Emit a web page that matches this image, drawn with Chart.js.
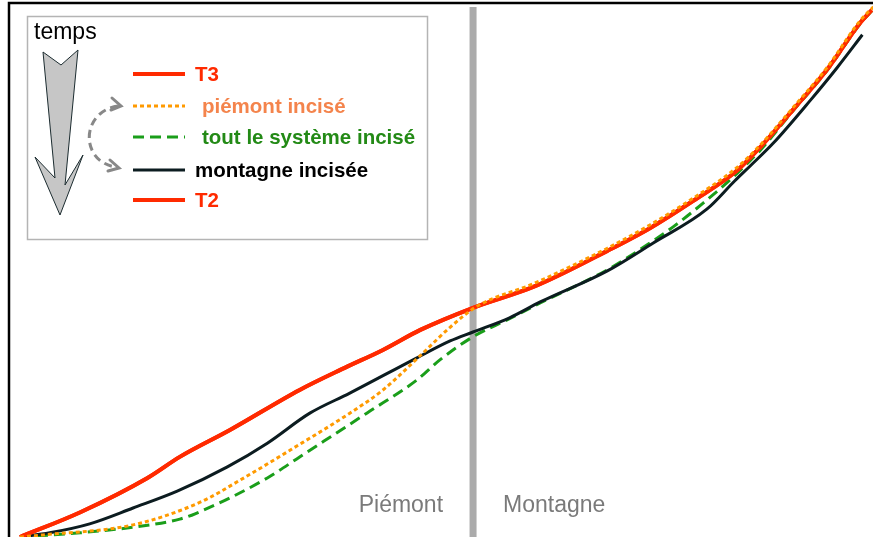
<!DOCTYPE html>
<html>
<head>
<meta charset="utf-8">
<script src="https://cdn.jsdelivr.net/npm/chart.js@4/dist/chart.umd.min.js"></script>
<style>
  html, body { margin: 0; padding: 0; background: #fff; }
  canvas { display: block; }
</style>
</head>
<body>
<canvas id="profil" width="873" height="537"></canvas>
<script>
// distance along the profile (0 = downstream end) and altitude, arbitrary units
let t2X = [0, 7.1, 15, 18.8, 24.7, 32.9, 38.2, 42.7, 47.1, 53.3, 60.6, 69.1, 74.1, 79.2, 84.4, 87.1, 90.9, 94.9, 98.8, 100.2];
let t2Y = [0, 4.7, 11.2, 15.2, 20.3, 27.9, 32.1, 35.5, 39.3, 43.5, 47.6, 54.3, 58.6, 63.8, 69.6, 74.0, 81.0, 88.6, 97.5, 100];
let t3X = [0, 7.1, 15, 18.8, 24.7, 32.9, 38.2, 42.7, 47.1, 53.3, 60.6, 69.1, 74.1, 79.2, 84.4, 87.1, 90.9, 94.9, 98.8, 100.2];
let t3Y = [0, 4.7, 11.2, 15.2, 20.3, 27.9, 32.1, 35.5, 39.3, 43.5, 47.6, 54.3, 58.6, 63.8, 69.6, 74.0, 81.0, 88.6, 97.5, 100];
let piemontX = [0, 2.7, 13.3, 21.2, 25.9, 31.8, 38.8, 42.7, 47.4, 50.6, 53.8, 60.6, 69.1, 74.1, 79.2, 84.4, 87.1, 90.9, 94.9, 98.8, 100.4];
let piemontY = [0, 0.4, 2.3, 6.6, 10.8, 16.5, 23.5, 27.9, 34.9, 39.8, 43.8, 48.2, 54.8, 59.2, 64.3, 70.2, 74.4, 81.4, 89.0, 97.9, 100.6];
let toutX = [0, 7.1, 15.3, 18.8, 20.6, 29.1, 32.9, 40.8, 46.7, 49.4, 53.3, 57.3, 61.2, 69.1, 72.9, 76.8, 80.4, 83.5, 85.5, 87.1, 90.9, 94.9, 98.8, 100.2];
let toutY = [0, 0.8, 2.3, 3.4, 4.4, 11.2, 15.2, 23.5, 29.8, 33.6, 38.0, 41.2, 44.4, 50.7, 54.5, 58.8, 63.4, 67.7, 70.8, 73.4, 80.8, 88.4, 97.3, 99.8];
let montagneX = [0, 3.5, 8.2, 13.3, 18.5, 24.4, 29.1, 34.1, 38.8, 46.7, 50.6, 53.3, 57.6, 61.2, 69.1, 74.5, 80.8, 84.1, 85.9, 88.6, 93.0, 96.1, 99.1];
let montagneY = [0, 0.8, 2.5, 5.5, 8.7, 13.3, 17.8, 23.5, 27.3, 34.0, 37.2, 38.9, 41.6, 44.6, 50.5, 55.8, 62.2, 67.6, 70.4, 74.7, 82.9, 89.0, 95.3];

let boundaryX = 53.3;
let zoneLabels = [`Piémont`, `Montagne`];
let legendLabels = [`T3`, `piémont incisé`, `tout le système incisé`, `montagne incisée`, `T2`];

let pts = (xs, ys) => xs.map((x, i) => ({x: x, y: ys[i]}));

let RED = `#ff2a00`;
let ORANGE = `#ff9a00`;
let GREEN = `#1a9e1a`;
let BLACK = `#0c1c20`;

// legend rows: line style + text colour
let legendStyle = [
    {color: RED, dash: [], width: 4, text: `#ff2a00`, dx: 195},
    {color: ORANGE, dash: [4, 3], width: 3, text: `#f4844c`, dx: 202},
    {color: GREEN, dash: [11, 6], width: 3, text: `#238a16`, dx: 202},
    {color: BLACK, dash: [], width: 3, text: `#000000`, dx: 195},
    {color: RED, dash: [], width: 4, text: `#ff2a00`, dx: 195}
];
let legendRowY = [74, 106, 137, 170, 200];

let decor = {
    id: `decor`,
    beforeDatasetsDraw(chart) {
        let ctx = chart.ctx;
        let xs = chart.scales.x;
        let bx = xs.getPixelForValue(boundaryX);
        ctx.save();
        ctx.fillStyle = `#ababab`;
        ctx.fillRect(bx - 3.5, 7, 7, chart.height);
        ctx.fillStyle = `#7a7a7a`;
        ctx.font = `23px "Liberation Sans", Arial, sans-serif`;
        ctx.textBaseline = `alphabetic`;
        ctx.textAlign = `right`;
        ctx.fillText(zoneLabels[0], bx - 30, 512);
        ctx.textAlign = `left`;
        ctx.fillText(zoneLabels[1], bx + 30, 512);
        ctx.restore();
    },
    afterDraw(chart) {
        let ctx = chart.ctx;
        ctx.save();
        // frame
        ctx.strokeStyle = `#000`;
        ctx.lineWidth = 2.5;
        ctx.beginPath();
        ctx.moveTo(9, chart.height + 2);
        ctx.lineTo(9, 3);
        ctx.lineTo(chart.width + 2, 3);
        ctx.stroke();

        // legend box
        ctx.fillStyle = `#fff`;
        ctx.fillRect(27.5, 16.5, 400, 223);
        ctx.strokeStyle = `#b4b4b4`;
        ctx.lineWidth = 1.5;
        ctx.strokeRect(27.5, 16.5, 400, 223);

        ctx.fillStyle = `#000`;
        ctx.font = `23px "Liberation Sans", Arial, sans-serif`;
        ctx.textBaseline = `alphabetic`;
        ctx.fillText(`temps`, 34, 39);

        // big time arrow
        ctx.beginPath();
        ctx.moveTo(43, 52);
        ctx.lineTo(61, 65);
        ctx.lineTo(78, 50);
        ctx.lineTo(65, 185);
        ctx.lineTo(83, 155);
        ctx.lineTo(60, 215);
        ctx.lineTo(35, 157);
        ctx.lineTo(55, 178);
        ctx.closePath();
        ctx.fillStyle = `#c6c6c6`;
        ctx.fill();
        ctx.strokeStyle = `#1c2c30`;
        ctx.lineWidth = 1;
        ctx.stroke();

        // curved dashed arrow
        ctx.strokeStyle = `#888`;
        ctx.lineWidth = 3;
        ctx.setLineDash([8, 5]);
        ctx.beginPath();
        ctx.moveTo(118, 106);
        ctx.bezierCurveTo(80, 112, 80, 162, 116, 167);
        ctx.stroke();
        ctx.setLineDash([]);
        ctx.lineWidth = 3;
        ctx.lineCap = `round`;
        ctx.beginPath();
        ctx.moveTo(112, 98); ctx.lineTo(121, 106); ctx.lineTo(111, 110);
        ctx.moveTo(110, 160); ctx.lineTo(119, 168); ctx.lineTo(108, 171);
        ctx.stroke();
        ctx.lineCap = `butt`;

        // legend entries
        ctx.font = `bold 20.5px "Liberation Sans", Arial, sans-serif`;
        ctx.textBaseline = `middle`;
        legendLabels.forEach((lab, i) => {
            let st = legendStyle[i];
            let y = legendRowY[i];
            ctx.strokeStyle = st.color;
            ctx.lineWidth = st.width;
            ctx.setLineDash(st.dash);
            ctx.beginPath();
            ctx.moveTo(133, y);
            ctx.lineTo(185, y);
            ctx.stroke();
            ctx.setLineDash([]);
            ctx.fillStyle = st.text;
            ctx.fillText(lab, st.dx, y + 1);
        });
        ctx.restore();
    }
};

new Chart(document.getElementById(`profil`), {
    type: `line`,
    data: {
        datasets: [
            {label: `piémont incisé`, data: pts(piemontX, piemontY), borderColor: ORANGE, borderWidth: 3, borderDash: [4, 3], order: 0},
            {label: `T3`, data: pts(t3X, t3Y), borderColor: RED, borderWidth: 4, order: 1},
            {label: `T2`, data: pts(t2X, t2Y), borderColor: RED, borderWidth: 4, order: 2},
            {label: `montagne incisée`, data: pts(montagneX, montagneY), borderColor: BLACK, borderWidth: 3, order: 3},
            {label: `tout le système incisé`, data: pts(toutX, toutY), borderColor: GREEN, borderWidth: 3, borderDash: [11, 6], order: 4}
        ]
    },
    options: {
        responsive: false,
        animation: false,
        devicePixelRatio: 1,
        layout: {padding: 0},
        elements: {
            point: {radius: 0},
            line: {cubicInterpolationMode: `monotone`, fill: false}
        },
        plugins: {
            legend: {display: false},
            tooltip: {enabled: false}
        },
        scales: {
            x: {type: `linear`, display: false, min: -2.35, max: 100.35},
            y: {type: `linear`, display: false, min: 0, max: 101.9}
        }
    },
    plugins: [decor]
});
</script>
</body>
</html>
